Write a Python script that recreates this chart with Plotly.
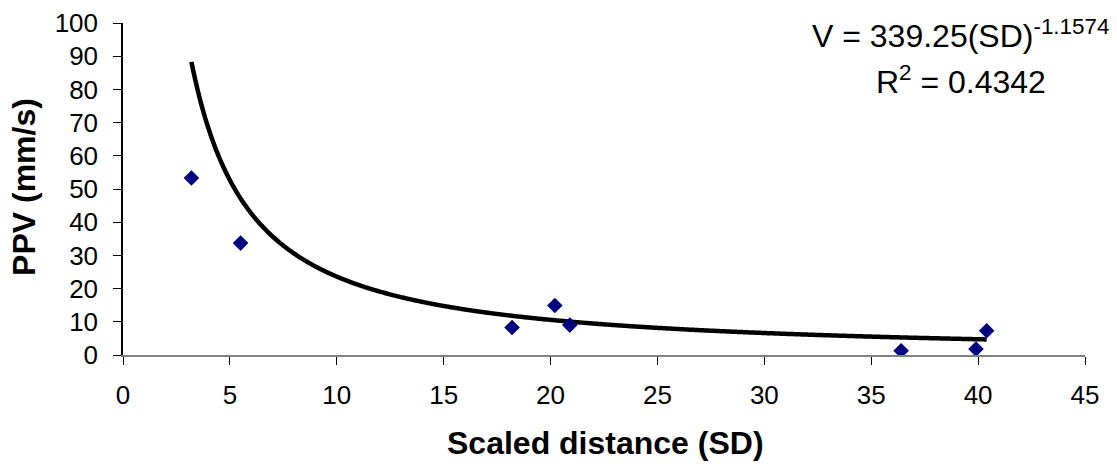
import numpy as np
import plotly.graph_objects as go

# Data
sd = [3.2, 5.5, 18.2, 20.2, 20.9, 36.4, 39.9, 40.4]
ppv = [53.3, 33.7, 8.3, 14.9, 9.0, 1.3, 1.8, 7.3]

# Power trendline coefficients shown on the chart
coef_k = 339.25
coef_b = -1.1574
eq_text = "V = 339.25(SD)<sup>-1.1574</sup>"
r2_text = "R<sup>2</sup> = 0.4342"
x_title = "<b>Scaled distance (SD)</b>"
y_title = "<b>PPV (mm/s)</b>"

x_ticks = [0, 5, 10, 15, 20, 25, 30, 35, 40, 45]
y_ticks = [0, 10, 20, 30, 40, 50, 60, 70, 80, 90, 100]

xt = np.linspace(min(sd), max(sd), 400)
yt = coef_k * xt ** coef_b

FONT = "Liberation Sans, Arial, sans-serif"

fig = go.Figure()
fig.add_trace(go.Scatter(x=xt, y=yt, mode="lines",
                         line=dict(color="black", width=4.5, shape="spline"),
                         hoverinfo="skip"))
fig.add_trace(go.Scatter(x=sd, y=ppv, mode="markers",
                         marker=dict(symbol="diamond", color="#000080", size=12,
                                     line=dict(width=0))))

fig.update_layout(
    width=1117, height=467,
    margin=dict(l=123, r=32, t=23, b=112),
    plot_bgcolor="white", paper_bgcolor="white",
    showlegend=False,
    font=dict(family=FONT, color="black", size=26),
)
fig.update_xaxes(range=[0, 45], tickvals=x_ticks, ticks="outside", ticklen=8,
                 tickcolor="black", showgrid=False, zeroline=False,
                 showline=True, linecolor="#808080", linewidth=2,
                 automargin=False,
                 tickfont=dict(size=26, family=FONT), ticklabelstandoff=8)
fig.update_yaxes(range=[0, 100], tickvals=y_ticks, ticks="outside", ticklen=8,
                 tickcolor="black", showgrid=False, zeroline=False,
                 showline=True, linecolor="black", linewidth=1.5,
                 automargin=False,
                 tickfont=dict(size=26, family=FONT), ticklabelstandoff=10)

# Axis titles
fig.add_annotation(text=x_title, xref="paper", yref="paper", x=0.502, y=-0.265,
                   showarrow=False, xanchor="center", yanchor="middle",
                   font=dict(size=32, family=FONT))
fig.add_annotation(text=y_title, xref="paper", yref="paper", x=-0.103, y=0.506,
                   showarrow=False, xanchor="center", yanchor="middle",
                   textangle=-90, font=dict(size=32, family=FONT))

# Trendline equation
fig.add_annotation(text=eq_text, xref="paper", yref="paper", x=0.871, y=0.967,
                   showarrow=False, xanchor="center", yanchor="middle",
                   font=dict(size=32, family=FONT))
fig.add_annotation(text=r2_text, xref="paper", yref="paper", x=0.871, y=0.829,
                   showarrow=False, xanchor="center", yanchor="middle",
                   font=dict(size=32, family=FONT))

fig.write_html("out.html",
               config={"displayModeBar": False},
               post_script="document.body.style.margin='0';document.body.style.overflow='hidden';")
